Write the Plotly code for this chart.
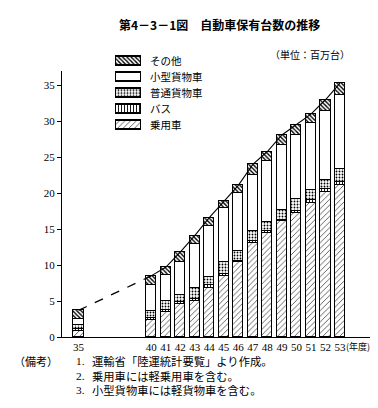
import plotly.graph_objects as go

years = [35, 40, 41, 42, 43, 44, 45, 46, 47, 48, 49, 50, 51, 52, 53]
year_labels = ["35", "40", "41", "42", "43", "44", "45", "46", "47", "48", "49", "50", "51", "52", "53"]

passenger = [0.9, 2.3, 3.5, 4.6, 5.0, 6.8, 8.5, 10.4, 13.1, 14.4, 16.1, 17.3, 18.7, 20.2, 21.2]
bus       = [0.2, 0.3, 0.3, 0.3, 0.3, 0.4, 0.3, 0.2, 0.3, 0.3, 0.2, 0.2, 0.3, 0.4, 0.3]
truck     = [0.6, 1.0, 1.2, 0.9, 1.5, 1.1, 1.6, 1.4, 1.3, 1.3, 1.4, 1.7, 1.4, 1.2, 1.8]
small_truck = [0.8, 3.7, 3.6, 4.7, 6.1, 7.2, 7.5, 8.1, 7.8, 8.5, 9.0, 8.9, 9.3, 9.7, 10.4]
other     = [1.2, 1.2, 1.1, 1.3, 1.2, 1.1, 1.0, 1.0, 1.5, 1.3, 1.4, 1.4, 1.3, 1.5, 1.6]

series_names = ["乗用車", "バス", "普通貨物車", "小型貨物車", "その他"]
series_values = [passenger, bus, truck, small_truck, other]
legend_order = ["その他", "小型貨物車", "普通貨物車", "バス", "乗用車"]

note_numbers = ["1.", "2.", "3."]
note_texts = ["運輸省「陸運統計要覧」より作成。", "乗用車には軽乗用車を含む。", "小型貨物車には軽貨物車を含む。"]

totals = [round(a + b + c + d + e, 2) for a, b, c, d, e in zip(passenger, bus, truck, small_truck, other)]

FONT = "Liberation Serif, Noto Sans CJK JP"
JP = "Noto Sans CJK JP"

styles = {
    "乗用車": ("/", 4, 0.15),
    "バス": ("|", 3, 0.3),
    "普通貨物車": (".", 3, 0.3),
    "小型貨物車": ("", 0, 0),
    "その他": ("\\", 3, 0.45),
}

def marker(name):
    shape, size, sol = styles[name]
    pat = dict(shape=shape, fgcolor="black", bgcolor="white", size=size, solidity=sol, fillmode="replace") if shape else None
    return dict(color="white", line=dict(color="black", width=1.2), pattern=pat)

fig = go.Figure()
for name, vals in zip(series_names, series_values):
    fig.add_trace(go.Bar(x=years, y=vals, name=name, width=0.7, marker=marker(name), showlegend=False))

fig.add_trace(go.Scatter(x=years[:2], y=totals[:2], mode="lines",
                         line=dict(color="black", width=1.3, dash="dash"), showlegend=False, hoverinfo="skip"))
fig.add_trace(go.Scatter(x=years[1:], y=totals[1:], mode="lines",
                         line=dict(color="black", width=1.1), showlegend=False, hoverinfo="skip"))

# custom legend swatches (small inset axes)
for name in legend_order:
    fig.add_trace(go.Bar(x=[1], y=[name], orientation="h", width=0.56, marker=marker(name),
                         xaxis="x2", yaxis="y2", showlegend=False, hoverinfo="skip"))

W, H = 378, 408
L, R, T, B = 54, 10, 30, 79
pw, ph = W - L - R, H - T - B
Y0 = H - B  # pixel of paper bottom

def px(x):
    return (x - L) / pw

def py(y):
    return (Y0 - y) / ph

annotations = [
    dict(text="<b>第4－3－1図　自動車保有台数の推移</b>", x=px(211), y=py(16), xanchor="center", yanchor="middle", font=dict(size=12, family=JP)),
    dict(text="（単位：百万台）", x=px(302), y=py(47), xanchor="center", yanchor="middle", font=dict(size=10, family=JP)),
    dict(text="(年度)", x=px(337), y=py(338), xanchor="left", yanchor="middle", font=dict(size=9, family=JP),
         borderpad=0),
    dict(text="（備考）", x=px(4), y=py(353), xanchor="left", yanchor="middle", font=dict(size=11, family=JP)),
    dict(text="<br>".join(note_numbers), x=px(66), y=py(367.5), xanchor="left", yanchor="middle", align="left",
         font=dict(size=11.3, family=FONT)),
    dict(text="<br>".join(note_texts), x=px(82), y=py(367.5), xanchor="left", yanchor="middle", align="left",
         font=dict(size=11.3, family=JP)),
]
row_y = [52.7, 68.5, 84.5, 100.5, 116.8]
for name, ry in zip(legend_order, row_y):
    annotations.append(dict(text=name, x=px(140), y=py(ry), xanchor="left", yanchor="middle",
                            font=dict(size=10.5, family=JP)))
for a in annotations:
    a.update(xref="paper", yref="paper", showarrow=False)

plot_top = 63
fig.update_layout(
    width=W, height=H,
    margin=dict(l=L, r=R, t=T, b=B, autoexpand=False),
    paper_bgcolor="white", plot_bgcolor="white",
    barmode="stack", bargap=0,
    font=dict(family=FONT, size=11, color="black"),
    showlegend=False,
    xaxis=dict(range=[33.86, 55.48], tickmode="array", tickvals=years, ticktext=year_labels,
               showline=True, linecolor="black", linewidth=1.2, ticks="", showgrid=False, zeroline=False,
               tickfont=dict(size=11, family=FONT), domain=[0, 1]),
    yaxis=dict(range=[0, 37], tickmode="array", tickvals=[0, 5, 10, 15, 20, 25, 30, 35],
               showline=True, linecolor="black", linewidth=1.2, ticks="outside", ticklen=4, tickcolor="black",
               showgrid=False, zeroline=False, tickfont=dict(size=11, family=FONT),
               domain=[0, py(plot_top)]),
    xaxis2=dict(domain=[px(106), px(135)], range=[-0.07, 1.07], visible=False, anchor="y2", fixedrange=True),
    yaxis2=dict(domain=[py(44.6 + 81), py(44.6)], range=[4.5, -0.5], type="category",
                categoryorder="array", categoryarray=legend_order, visible=False, anchor="x2", fixedrange=True),
    annotations=annotations,
)

fig.write_html("out.html")
